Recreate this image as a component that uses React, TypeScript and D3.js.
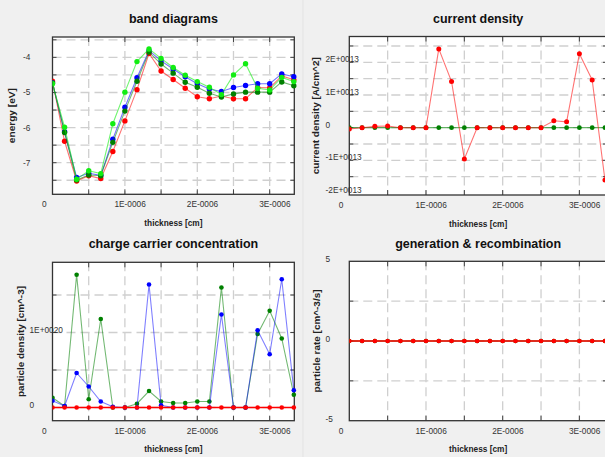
import React from 'react';
import * as d3 from 'd3';

// thickness grid [cm], same for all four plots
const thickness = [
  0, 1.667e-7, 3.333e-7, 5e-7, 6.667e-7, 8.333e-7, 1e-6, 1.1667e-6, 1.3333e-6, 1.5e-6, 1.6667e-6,
  1.8333e-6, 2e-6, 2.1667e-6, 2.3333e-6, 2.5e-6, 2.6667e-6, 2.8333e-6, 3e-6, 3.1667e-6, 3.3333e-6,
];

// band diagrams [eV]
const bandRed = [-4.68, -6.39, -7.52, -7.37, -7.45, -6.68, -5.81, -4.92, -3.89, -4.39, -4.63, -4.88, -5.12, -5.18, -5.1, -5.18, -5.18, -4.86, -4.87, -4.53, -4.64];
const bandBlue = [-4.72, -6.12, -7.42, -7.3, -7.36, -6.33, -5.42, -4.58, -3.81, -4.1, -4.33, -4.55, -4.75, -4.9, -4.97, -4.86, -4.8, -4.75, -4.75, -4.47, -4.55];
const bandDarkGreen = [-4.73, -6.14, -7.49, -7.35, -7.37, -6.42, -5.53, -4.68, -3.85, -4.19, -4.45, -4.71, -4.85, -5.02, -5.13, -5.04, -4.99, -4.99, -4.99, -4.7, -4.81];
const bandGreen = [-4.75, -5.99, -7.47, -7.23, -7.31, -5.89, -4.99, -4.12, -3.76, -4.03, -4.29, -4.51, -4.69, -4.85, -5.06, -4.5, -4.18, -4.88, -4.93, -4.57, -4.69];

// current density [A/cm^2]
const currentRed = [-0.04e13, 0, 0.04e13, 0.05e13, 0, 0, 0, 2.41e13, 1.41e13, -0.96e13, 0, 0, 0, 0, 0, 0, 0.21e13, 0.18e13, 2.26e13, 1.46e13, -1.6e13];
const currentGreen = [0, 0, 0, 0, 0, 0, 0, 0, 0, 0, 0, 0, 0, 0, 0, 0, 0, 0, 0, 0, 0];

// charge carrier concentration [cm^-3]
const carrierGreen = [0.13e20, 0.02e20, 1.77e20, 0.11e20, 1.18e20, 0, 0, 0.05e20, 0.22e20, 0.08e20, 0.06e20, 0.06e20, 0.08e20, 0.08e20, 1.6e20, 0, 0, 0.98e20, 1.29e20, 0.92e20, 0.17e20];
const carrierBlue = [0.09e20, 0.02e20, 0.46e20, 0.28e20, 0.08e20, 0.01e20, 0, 0, 1.64e20, 0.03e20, 0, 0, 0, 0, 1.24e20, 0, 0, 1.03e20, 0.71e20, 1.71e20, 0.23e20];
const carrierRed = [0, 0, 0, 0, 0, 0, 0, 0, 0, 0, 0, 0, 0, 0, 0, 0, 0, 0, 0, 0, 0];

// generation & recombination [cm^-3/s]
const rateGreen = [0, 0, 0, 0, 0, 0, 0, 0, 0, 0, 0, 0, 0, 0, 0, 0, 0, 0, 0, 0, 0];
const rateRed = [0, 0, 0, 0, 0, 0, 0, 0, 0, 0, 0, 0, 0, 0, 0, 0, 0, 0, 0, 0, 0];

const xTickValues = [0, 1e-6, 2e-6, 3e-6];
const xTickLabels = ['0', '1E-0006', '2E-0006', '3E-0006'];
const xGridValues = [5e-7, 1e-6, 1.5e-6, 2e-6, 2.5e-6, 3e-6];

const bandTicks = [-4, -5, -6, -7];
const bandTickLabels = ['-4', '-5', '-6', '-7'];
const bandGrid = [-3.5, -4, -4.5, -5, -5.5, -6, -6.5, -7, -7.5];

const currentTicks = [2e13, 1e13, 0, -1e13, -2e13];
const currentTickLabels = ['2E+0013', '1E+0013', '0', '-1E+0013', '-2E+0013'];
const currentGrid = [2.5e13, 2e13, 1.5e13, 1e13, 0.5e13, 0, -0.5e13, -1e13, -1.5e13];

const carrierTicks = [1e20, 0];
const carrierTickLabels = ['1E+0020', '0'];
const carrierGrid = [1.5e20, 1e20, 0.5e20, 0];

const rateTicks = [5, 0, -5];
const rateTickLabels = ['5', '0', '-5'];
const rateGrid = [2.5, 0, -2.5];

const FONT = '"Liberation Sans", Arial, sans-serif';

type Series = { values: number[]; color: string; r: number; opacity: number; width: number };

type PanelProps = {
  left: number; right: number; top: number; bottom: number;
  xMax: number; yDomain: [number, number];
  yGrid: number[]; yTicks: number[]; yTickLabels: string[];
  yLabelLeft: number; yLabelDy: number;
  title: string; titleY: number;
  yTitle: string; yTitleX: number; yTitleLen: number;
  series: Series[];
};

function Panel(p: PanelProps) {
  const x = d3.scaleLinear().domain([0, p.xMax]).range([p.left, p.right]);
  const y = d3.scaleLinear().domain(p.yDomain).range([p.bottom, p.top]);
  const line = d3.line<number>().x((d, i) => x(thickness[i])).y((d) => y(d));
  const cx = (p.left + p.right) / 2;
  const cy = (p.top + p.bottom) / 2;
  const clipId = `clip-${Math.round(p.left)}-${Math.round(p.top)}`;

  return (
    <g>
      <defs>
        <clipPath id={clipId}>
          <rect x={p.left} y={p.top - 4} width={p.right - p.left + 4} height={p.bottom - p.top + 8} />
        </clipPath>
      </defs>
      <text x={cx} y={p.titleY} textAnchor="middle" fontFamily={FONT} fontWeight="bold" fontSize={12.5} fill="#111">
        {p.title}
      </text>
      <rect x={p.left} y={p.top} width={p.right - p.left} height={p.bottom - p.top} fill="#fff" />
      {/* dashed grid */}
      {xGridValues.map((v) => (
        <line key={'gx' + v} x1={x(v)} x2={x(v)} y1={p.top} y2={p.bottom} stroke="#cfcfcf" strokeWidth={1.3} strokeDasharray="9,5" />
      ))}
      {p.yGrid.map((v) => (
        <line key={'gy' + v} x1={p.left} x2={p.right} y1={y(v)} y2={y(v)} stroke="#cfcfcf" strokeWidth={1.3} strokeDasharray="9,5" />
      ))}
      {/* inner ticks */}
      {xGridValues.map((v) => (
        <g key={'tx' + v} stroke="#444" strokeWidth={1}>
          <line x1={x(v)} x2={x(v)} y1={p.top} y2={p.top + 5} />
          <line x1={x(v)} x2={x(v)} y1={p.bottom} y2={p.bottom - 5} />
        </g>
      ))}
      {p.yGrid.map((v) => (
        <g key={'ty' + v} stroke="#444" strokeWidth={1}>
          <line x1={p.left} x2={p.left + 4} y1={y(v)} y2={y(v)} />
          <line x1={p.right} x2={p.right - 4} y1={y(v)} y2={y(v)} />
        </g>
      ))}
      <rect x={p.left} y={p.top} width={p.right - p.left} height={p.bottom - p.top} fill="none" stroke="#333" strokeWidth={1.3} />
      {/* series */}
      <g clipPath={`url(#${clipId})`}>
        {p.series.map((s, k) => (
          <g key={k}>
            <path d={line(s.values) ?? ''} fill="none" stroke={s.color} strokeOpacity={s.opacity} strokeWidth={s.width} />
            {s.values.map((v, i) => (
              <circle key={i} cx={x(thickness[i])} cy={y(v)} r={s.r} fill={s.color} />
            ))}
          </g>
        ))}
      </g>
      {/* tick labels */}
      {xTickValues.map((v, i) => (
        <text key={'xl' + v} x={x(v) - 10.5} y={p.bottom + 13} fontFamily={FONT} fontSize={8.3} fill="#333">
          {xTickLabels[i]}
        </text>
      ))}
      {p.yTicks.map((v, i) => (
        <text key={'yl' + v} x={p.yLabelLeft} y={y(v) + p.yLabelDy} fontFamily={FONT} fontSize={8.3} fill="#333">
          {p.yTickLabels[i]}
        </text>
      ))}
      <text x={cx} y={p.bottom + 31.5} textAnchor="middle" fontFamily={FONT} fontWeight="bold" fontSize={8.3} fill="#222">
        thickness [cm]
      </text>
      <text
        transform={`translate(${p.yTitleX},${cy}) rotate(-90)`}
        textAnchor="middle"
        fontFamily={FONT}
        fontWeight="bold"
        fontSize={9}
        fill="#222"
        textLength={p.yTitleLen}
        lengthAdjust="spacingAndGlyphs"
      >
        {p.yTitle}
      </text>
    </g>
  );
}

export default function App() {
  return (
    <svg width={605} height={457} style={{ position: 'absolute', left: 0, top: 0 }}>
      <rect x={0} y={0} width={605} height={457} fill="#f0f0f0" />
      <line x1={303} x2={303} y1={0} y2={457} stroke="#e3e3e3" strokeWidth={1} />
      <Panel
        left={52.5} right={294.3} top={37} bottom={194.3}
        xMax={3.34e-6} yDomain={[-7.9, -3.42]}
        yGrid={bandGrid} yTicks={bandTicks} yTickLabels={bandTickLabels}
        yLabelLeft={23} yLabelDy={3}
        title="band diagrams" titleY={23}
        yTitle="energy [eV]" yTitleX={14.5} yTitleLen={55}
        series={[
          { values: bandRed, color: '#ff0000', r: 2.7, opacity: 0.55, width: 1.1 },
          { values: bandBlue, color: '#0000ff', r: 2.7, opacity: 0.55, width: 1.1 },
          { values: bandDarkGreen, color: '#008000', r: 2.7, opacity: 0.55, width: 1.1 },
          { values: bandGreen, color: '#11ee11', r: 2.7, opacity: 0.6, width: 1.1 },
        ]}
      />
      <Panel
        left={349.3} right={607} top={36.5} bottom={195}
        xMax={3.36e-6} yDomain={[-2.06e13, 2.79e13]}
        yGrid={currentGrid} yTicks={currentTicks} yTickLabels={currentTickLabels}
        yLabelLeft={325.5} yLabelDy={0}
        title="current density" titleY={23}
        yTitle="current density [A/cm^2]" yTitleX={318.7} yTitleLen={117}
        series={[
          { values: currentGreen, color: '#008000', r: 2.4, opacity: 0.6, width: 1.3 },
          { values: currentRed, color: '#ff0000', r: 2.5, opacity: 0.55, width: 1.1 },
        ]}
      />
      <Panel
        left={52.5} right={294.3} top={262.3} bottom={420.7}
        xMax={3.34e-6} yDomain={[-0.176e20, 1.936e20]}
        yGrid={carrierGrid} yTicks={carrierTicks} yTickLabels={carrierTickLabels}
        yLabelLeft={29.5} yLabelDy={0}
        title="charge carrier concentration" titleY={248}
        yTitle="particle density [cm^-3]" yTitleX={23.5} yTitleLen={111}
        series={[
          { values: carrierGreen, color: '#008000', r: 2.3, opacity: 0.55, width: 1.1 },
          { values: carrierBlue, color: '#0000ff', r: 2.3, opacity: 0.5, width: 1.1 },
          { values: carrierRed, color: '#ff0000', r: 2.3, opacity: 1, width: 1.3 },
        ]}
      />
      <Panel
        left={349.3} right={607} top={261.3} bottom={420.7}
        xMax={3.36e-6} yDomain={[-5, 5]}
        yGrid={rateGrid} yTicks={rateTicks} yTickLabels={rateTickLabels}
        yLabelLeft={325.5} yLabelDy={1}
        title="generation & recombination" titleY={248}
        yTitle="particle rate [cm^-3/s]" yTitleX={320} yTitleLen={103}
        series={[
          { values: rateGreen, color: '#008000', r: 2.3, opacity: 0.6, width: 1.3 },
          { values: rateRed, color: '#ff0000', r: 2.3, opacity: 1, width: 1.6 },
        ]}
      />
    </svg>
  );
}
